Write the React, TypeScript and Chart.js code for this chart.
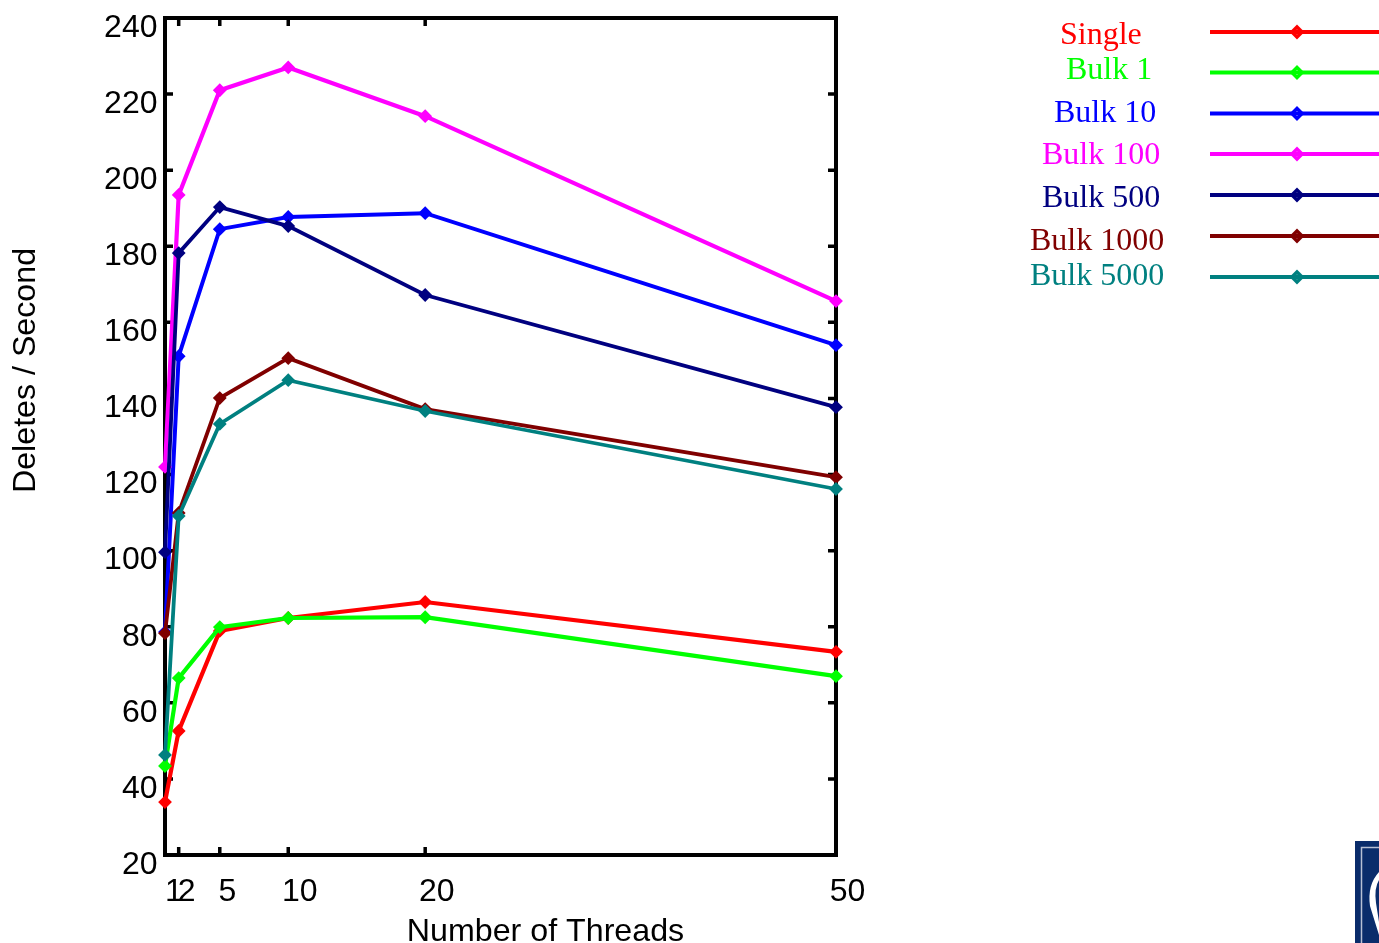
import React, { useEffect, useRef } from "react";
import { Chart, registerables } from "chart.js";

Chart.register(...registerables);

const threads = [1, 2, 5, 10, 20, 50];
const yTicks = [20, 40, 60, 80, 100, 120, 140, 160, 180, 200, 220, 240];

const single = [33.9, 52.6, 78.9, 82.3, 86.5, 73.4];
const bulk1 = [43.4, 66.5, 79.9, 82.3, 82.5, 67];
const bulk10 = [78.6, 151.1, 184.5, 187.7, 188.7, 154];
const bulk100 = [122, 193.5, 221, 227, 214.2, 165.6];
const bulk500 = [99.6, 178.2, 190.3, 185.3, 167.2, 137.7];
const bulk1000 = [78.3, 109.9, 140.1, 150.6, 137.2, 119.3];
const bulk5000 = [46.3, 109.1, 133.3, 144.8, 136.7, 116.2];

const seriesNames = ["Single", "Bulk 1", "Bulk 10", "Bulk 100", "Bulk 500", "Bulk 1000", "Bulk 5000"];
const seriesValues = [single, bulk1, bulk10, bulk100, bulk500, bulk1000, bulk5000];
const seriesColors = ["#ff0000", "#00ff00", "#0000ff", "#ff00ff", "#000080", "#800000", "#008080"];
const seriesWidths = [4.2, 4.2, 4, 4.2, 3.8, 3.8, 3.8];

const legendTextX = [1060, 1066, 1054, 1042, 1042, 1030, 1030];
const legendTextY = [44, 79, 122, 164, 207, 250, 285];
const legendLineY = [32, 72.5, 113.5, 154, 195, 236, 277];
const xLabelShift = [9, 8, 7.5, 11.5, 11.5, 11.5];

const PLOT = { left: 165, right: 836, top: 18, bottom: 855 };
const SANS = '"Liberation Sans", Arial, sans-serif';
const SERIF = '"Liberation Serif", "Times New Roman", serif';

const framePlugin = {
  id: "frame",
  beforeDatasetsDraw(chart: any) {
    const { ctx, scales } = chart;
    const { x, y } = scales;
    ctx.save();
    ctx.strokeStyle = "#000";
    ctx.lineWidth = 4;
    ctx.lineCap = "butt";
    ctx.lineJoin = "miter";
    ctx.strokeRect(PLOT.left, PLOT.top, PLOT.right - PLOT.left, PLOT.bottom - PLOT.top);
    ctx.lineWidth = 3.5;
    ctx.beginPath();
    threads.forEach((t) => {
      const px = x.getPixelForValue(t);
      ctx.moveTo(px, PLOT.bottom);
      ctx.lineTo(px, PLOT.bottom - 8);
      ctx.moveTo(px, PLOT.top);
      ctx.lineTo(px, PLOT.top + 8);
    });
    yTicks.forEach((v) => {
      const py = y.getPixelForValue(v);
      ctx.moveTo(PLOT.left, py);
      ctx.lineTo(PLOT.left + 8, py);
      ctx.moveTo(PLOT.right, py);
      ctx.lineTo(PLOT.right - 8, py);
    });
    ctx.stroke();
    ctx.restore();
  },
};

const textPlugin = {
  id: "texts",
  afterDraw(chart: any) {
    const { ctx, scales } = chart;
    const { x } = scales;
    ctx.save();
    ctx.fillStyle = "#000";
    ctx.font = `32px ${SANS}`;
    ctx.textBaseline = "alphabetic";
    ctx.textAlign = "center";
    threads.forEach((t, i) => {
      ctx.fillText(String(t), x.getPixelForValue(t) + xLabelShift[i], 901);
    });
    ctx.font = `32.2px ${SANS}`;
    ctx.fillText("Number of Threads", 545.5, 941);
    ctx.translate(35, 370.5);
    ctx.rotate(-Math.PI / 2);
    ctx.fillText("Deletes / Second", 0, 0);
    ctx.restore();

    // legend
    ctx.save();
    seriesNames.forEach((name, i) => {
      const color = seriesColors[i];
      ctx.fillStyle = color;
      ctx.font = `32px ${SERIF}`;
      ctx.textAlign = "left";
      ctx.textBaseline = "alphabetic";
      ctx.fillText(name, legendTextX[i], legendTextY[i]);
      ctx.strokeStyle = color;
      ctx.lineWidth = seriesWidths[i];
      ctx.beginPath();
      ctx.moveTo(1210, legendLineY[i]);
      ctx.lineTo(1379, legendLineY[i]);
      ctx.stroke();
      ctx.lineWidth = 3.5;
      ctx.beginPath();
      const r = 5;
      const cx = 1297;
      const cy = legendLineY[i];
      ctx.moveTo(cx, cy - r);
      ctx.lineTo(cx + r, cy);
      ctx.lineTo(cx, cy + r);
      ctx.lineTo(cx - r, cy);
      ctx.closePath();
      ctx.stroke();
    });
    ctx.restore();

    // logo fragment in the corner
    ctx.save();
    ctx.fillStyle = "#0a2c6b";
    ctx.fillRect(1355, 841, 24, 102);
    ctx.strokeStyle = "#b8c0d4";
    ctx.lineWidth = 1.5;
    ctx.beginPath();
    ctx.moveTo(1379, 847.5);
    ctx.lineTo(1361.5, 847.5);
    ctx.lineTo(1361.5, 943);
    ctx.stroke();
    ctx.fillStyle = "#fff";
    ctx.beginPath();
    ctx.moveTo(1379, 872);
    ctx.quadraticCurveTo(1367, 885, 1370, 906);
    ctx.lineTo(1379, 935);
    ctx.lineTo(1379, 922);
    ctx.lineTo(1376, 903);
    ctx.quadraticCurveTo(1374, 888, 1379, 880);
    ctx.closePath();
    ctx.fill();
    ctx.restore();
  },
};

export default function App() {
  const ref = useRef<HTMLCanvasElement>(null);
  useEffect(() => {
    const canvas = ref.current!;
    const chart = new Chart(canvas, {
      type: "line",
      data: {
        datasets: seriesNames.map((name, i) => ({
          label: name,
          data: threads.map((t, j) => ({ x: t, y: seriesValues[i][j] })),
          borderColor: seriesColors[i],
          backgroundColor: seriesColors[i],
          borderWidth: seriesWidths[i],
          pointStyle: "rectRot",
          pointRadius: 5.5,
          pointBorderWidth: 2,
          pointBackgroundColor: seriesColors[i],
          pointBorderColor: seriesColors[i],
          tension: 0,
          clip: false,
          order: seriesNames.length - i,
        })),
      },
      options: {
        responsive: false,
        animation: false,
        layout: { padding: { top: PLOT.top, right: 1379 - PLOT.right, left: 0, bottom: 0 } },
        plugins: { legend: { display: false }, tooltip: { enabled: false }, title: { display: false } },
        scales: {
          x: {
            type: "linear",
            min: 1,
            max: 50,
            grid: { display: false },
            border: { display: false },
            ticks: { display: false },
            afterBuildTicks: (s: any) => {
              s.ticks = threads.map((value) => ({ value }));
            },
            afterFit: (s: any) => {
              s.height = 943 - PLOT.bottom;
              s.paddingLeft = 0;
              s.paddingRight = 0;
            },
          },
          y: {
            type: "linear",
            min: 20,
            max: 240,
            grid: { display: false, drawTicks: false },
            border: { display: false },
            afterBuildTicks: (s: any) => {
              s.ticks = yTicks.map((value) => ({ value }));
            },
            ticks: {
              color: "#000",
              font: { family: SANS, size: 32 },
              padding: 7.5,
              labelOffset: 10,
              autoSkip: false,
              maxRotation: 0,
            },
            afterFit: (s: any) => {
              s.width = PLOT.left;
              s.paddingTop = 0;
              s.paddingBottom = 0;
            },
          },
        },
      } as any,
      plugins: [framePlugin, textPlugin],
    });
    return () => chart.destroy();
  }, []);
  return (
    <canvas
      ref={ref}
      width={1379}
      height={943}
      style={{ position: "absolute", left: 0, top: 0, width: 1379, height: 943, display: "block" }}
    />
  );
}
